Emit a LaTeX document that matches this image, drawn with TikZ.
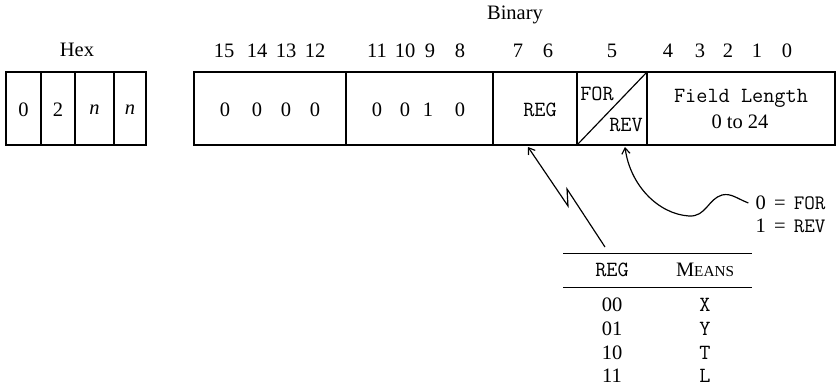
\documentclass[tikz,border=0pt]{standalone}
\usepackage{fontspec}
\setmainfont{Liberation Serif}
\usetikzlibrary{arrows.meta}

\begin{document}
\begin{tikzpicture}[x=0.03cm,y=-0.03cm,>={Straight Barb[length=5pt,width=7pt]},line width=1pt,
  lbl/.style={inner sep=0pt,font=\fontsize{17.5}{20}\selectfont},
  code/.style={inner sep=0pt,font=\fontsize{18.5}{20}\selectfont\ttfamily}]
  \useasboundingbox (0,0) rectangle (837,392);

  % hex digits
  \draw (6,72) rectangle (146,145);
  \foreach \x in {41,75,114} \draw (\x,72) -- (\x,145);
  \node[lbl] (hex) at (77,50) {Hex};
  \foreach \x/\d [count=\i] in {23.5/0,58/2,94.5/\textit{n},130/\textit{n}}
    \node[lbl] (h\i) at (\x,110) {\d};

  % binary fields
  \draw (194,72) rectangle (835,145);
  \foreach \x in {346,493,577,647} \draw (\x,72) -- (\x,145);
  \draw (577,145) -- (647,72);
  \node[lbl] (binary) at (515,15) {Binary};
  \foreach \x/\b in {224/15,257/14,286/13,315/12,377/11,405/10,430/9,460/8,
                     518/7,548/6,612/5,668/4,700/3,728/2,757/1,787/0}
    \node[lbl] (b\b) at (\x,51) {\b};
  \foreach \x/\d [count=\i] in {225/0,257/0,286/0,315/0,377/0,405/0,428/1,460/0}
    \node[lbl] (d\i) at (\x,110) {\d};
  \node[code] (reg) at (540,110) {REG};
  \node[code] (for) at (597,94) {FOR};
  \node[code] (rev) at (626,125) {REV};
  \node[code] (fl) at (741,98) {Field Length};
  \node[lbl] (range) at (740,122) {0 to 24};

  % direction values
  \node[lbl,anchor=west] (v0) at (755,203) {0\hspace{0.4em}=\hspace{0.4em}{\ttfamily FOR}};
  \node[lbl,anchor=west] (v1) at (755,226) {1\hspace{0.4em}=\hspace{0.4em}{\ttfamily REV}};
  \coordinate (revtip) at (625,147);
  \draw[->] ([xshift=-0.2cm]v0.west) .. controls (736,198) and (731,193) .. (722,195)
    .. controls (708,199) and (706,217) .. (689,216)
    .. controls (658,214) and (630,185) .. (revtip);

  % register table
  \coordinate (tl) at (563,253);
  \coordinate (tr) at (752,253);
  \draw[line width=0.6pt] (tl) -- (tr);
  \draw[line width=0.6pt] (563,287) -- (752,287);
  \node[code] (hreg) at (612,270) {REG};
  \node[lbl] (hmeans) at (705,270) {M{\fontsize{13}{15}\selectfont EANS}};
  \foreach \r/\m [count=\i] in {00/X,01/Y,10/T,11/L} {
    \node[lbl] (r\i) at (612,281+23.8*\i) {\r};
    \node[code] (m\i) at (705,281+23.8*\i) {\m};
  }
  \coordinate (regtip) at (528,147);
  \coordinate (zig) at (605,247);
  \draw[<-] (regtip) -- (568,206) -- (567,189) -- (zig);
\end{tikzpicture}
\end{document}
